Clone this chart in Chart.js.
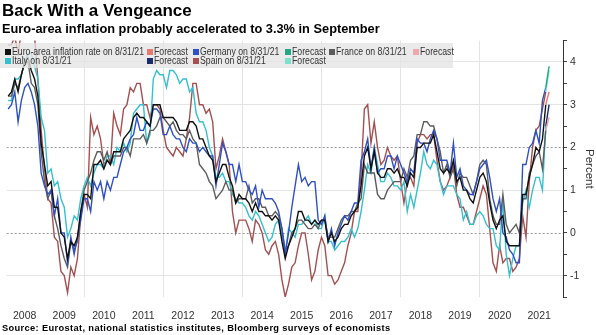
<!DOCTYPE html>
<html><head><meta charset="utf-8">
<script src="https://cdn.jsdelivr.net/npm/chart.js@4"></script>
<style>
html,body{margin:0;padding:0;background:#fff;}
#wrap{position:relative;width:596px;height:335px;overflow:hidden;font-family:"Liberation Sans",Arial,sans-serif;color:#000;}
#c{position:absolute;left:0;top:0;}
#title{position:absolute;left:2px;top:2px;font-weight:bold;font-size:17px;line-height:18px;white-space:nowrap;}
#sub{position:absolute;left:2px;top:22px;font-weight:bold;font-size:12.8px;line-height:14px;white-space:nowrap;}
#legend{position:absolute;left:0;top:43px;width:453px;height:25px;background:rgba(228,228,228,0.78);}
.li{position:absolute;font-family:"Liberation Sans",Arial,sans-serif;font-size:10px;line-height:10px;color:#333;white-space:nowrap;}
.sq{position:absolute;left:0;top:2px;width:6px;height:6px;}
.tx{position:absolute;left:7px;top:0;transform:scaleX(0.87);transform-origin:0 0;}
#src{position:absolute;left:2px;top:323px;font-weight:bold;font-size:9.3px;line-height:10px;white-space:nowrap;letter-spacing:0.35px;}
</style>
</head><body>
<div id="wrap">
<canvas id="c" width="596" height="335"></canvas>
<div id="title">Back With a Vengeance</div>
<div id="sub">Euro-area inflation probably accelerated to 3.3% in September</div>
<div id="legend"></div>
<div id="src">Source: Eurostat, national statistics institutes, Bloomberg surveys of economists</div>
</div>
<script>
// ---- data (monthly, Jan 2008 - Aug 2021, % y/y) ----
const startYear = 2008;
const yearLabels = [2008,2009,2010,2011,2012,2013,2014,2015,2016,2017,2018,2019,2020,2021];
const gridYears = [2010,2012,2014,2016,2018,2020];
const yTickValues = [-1.5,-1,-0.5,0,0.5,1,1.5,2,2.5,3,3.5,4,4.5];
const dottedLevels = [0, 2];

const euroArea = [
 3.2,3.3,3.6,3.3,3.7,4.0,4.1,3.8,3.6,3.2,2.1,1.6,
 1.1,1.2,0.6,0.6,0.0,-0.1,-0.6,-0.2,-0.3,-0.1,0.5,0.9,
 0.9,0.8,1.6,1.6,1.7,1.5,1.7,1.6,1.9,1.9,1.9,2.2,
 2.3,2.4,2.7,2.8,2.7,2.7,2.6,2.5,3.0,3.0,3.0,2.7,
 2.7,2.7,2.7,2.6,2.4,2.4,2.4,2.6,2.6,2.5,2.2,2.2,
 2.0,1.8,1.7,1.2,1.4,1.6,1.6,1.3,1.1,0.7,0.9,0.8,
 0.8,0.7,0.5,0.7,0.5,0.5,0.4,0.4,0.3,0.4,0.3,-0.2,
 -0.6,-0.3,-0.1,0.1,0.5,0.5,0.3,0.3,0.2,0.3,0.2,0.3,
 0.3,-0.2,0.0,-0.2,-0.1,0.1,0.2,0.2,0.4,0.5,0.6,1.1,
 1.8,2.0,1.5,1.9,1.4,1.3,1.3,1.5,1.5,1.4,1.5,1.3,
 1.3,1.1,1.4,1.3,2.0,2.0,2.1,2.1,2.1,2.3,1.9,1.5,
 1.4,1.5,1.4,1.7,1.2,1.3,1.0,1.0,0.8,0.7,1.0,1.3,
 1.4,1.2,0.7,0.3,0.1,0.3,0.4,-0.2,-0.3,-0.3,-0.3,-0.3,
 0.9,0.9,1.3,1.6,2.0,1.9,2.2,3.0];
const germany = [
 2.9,3.0,3.3,2.6,3.1,3.4,3.5,3.3,3.0,2.5,1.4,1.1,
 0.9,1.0,0.4,0.8,0.0,0.0,-0.7,-0.1,-0.5,-0.1,0.3,0.8,
 0.8,0.5,1.2,1.0,1.2,0.8,1.2,1.0,1.3,1.3,1.6,1.9,
 2.0,2.2,2.3,2.7,2.4,2.4,2.6,2.5,2.9,2.9,2.8,2.3,
 2.3,2.5,2.3,2.2,2.2,2.0,1.9,2.2,2.1,2.1,1.9,2.0,
 1.9,1.8,1.8,1.1,1.6,2.1,1.9,1.6,1.6,1.2,1.6,1.2,
 1.2,1.0,0.9,1.1,0.6,1.0,0.8,0.8,0.8,0.7,0.5,0.1,
 -0.5,0.0,0.6,1.1,1.6,1.2,1.3,1.1,1.2,1.2,0.3,0.2,
 0.4,-0.2,0.1,-0.3,0.0,0.2,0.4,0.3,0.5,0.7,0.7,1.7,
 1.9,2.2,1.5,2.0,1.4,1.5,1.5,1.8,1.8,1.5,1.8,1.6,
 1.4,1.2,1.5,1.4,2.2,2.1,2.1,1.9,2.2,2.4,2.2,1.7,
 1.7,1.7,1.4,2.1,1.3,1.5,1.1,1.0,0.9,0.9,1.2,1.5,
 1.6,1.7,1.3,0.8,0.5,0.8,0.0,-0.1,-0.4,-0.5,-0.7,-0.7,
 1.6,1.6,2.0,2.1,2.4,2.1,3.1,3.4];
const france = [
 3.2,3.2,3.5,3.4,3.7,4.0,4.0,3.5,3.4,3.0,1.9,1.2,
 0.8,1.0,0.4,0.1,-0.3,-0.6,-0.8,-0.2,-0.4,-0.2,0.5,1.0,
 1.2,1.4,1.7,1.9,1.9,1.7,1.9,1.6,1.8,1.8,1.8,2.0,
 2.0,1.8,2.2,2.2,2.2,2.3,2.1,2.4,2.4,2.5,2.7,2.7,
 2.6,2.5,2.6,2.4,2.3,2.3,2.2,2.4,2.2,2.1,1.6,1.5,
 1.4,1.2,1.1,0.8,0.9,1.0,1.2,1.0,1.0,0.7,0.8,0.8,
 0.8,1.1,0.7,0.8,0.8,0.6,0.6,0.4,0.4,0.5,0.4,0.1,
 -0.4,-0.3,0.0,0.1,0.3,0.3,0.2,0.1,0.1,0.2,0.1,0.3,
 0.3,-0.1,-0.1,-0.1,0.1,0.3,0.4,0.4,0.5,0.5,0.7,0.8,
 1.6,1.4,1.4,1.4,0.9,0.8,0.8,1.0,1.1,1.2,1.2,1.2,
 1.5,1.3,1.7,1.8,2.3,2.3,2.6,2.6,2.5,2.5,2.2,1.9,
 1.4,1.6,1.3,1.5,1.1,1.4,1.3,1.3,1.1,0.9,1.2,1.6,
 1.7,1.6,0.8,0.4,0.2,0.2,0.9,0.2,0.0,0.1,0.2,0.0,
 0.8,0.8,1.4,1.6,1.8,1.9,1.5,2.4];
const italy = [
 3.1,3.1,3.6,3.6,3.7,4.0,4.2,4.2,3.9,3.6,2.7,2.4,
 1.4,1.5,1.1,1.2,0.8,0.6,-0.1,0.1,0.4,0.3,0.8,1.1,
 1.3,1.1,1.4,1.6,1.6,1.5,1.8,1.8,1.6,2.0,1.9,2.1,
 1.9,2.1,2.8,2.9,3.0,3.0,2.1,2.3,3.6,3.8,3.7,3.7,
 3.4,3.8,3.8,3.7,3.5,3.6,3.6,3.3,3.4,2.8,2.6,2.6,
 2.4,2.0,1.8,1.3,1.3,1.4,1.2,1.2,0.9,0.8,0.7,0.7,
 0.6,0.4,0.3,0.5,0.4,0.2,0.0,-0.2,-0.1,0.2,0.3,-0.1,
 -0.5,0.1,0.0,-0.1,0.2,0.2,0.3,0.4,0.2,0.3,0.1,0.1,
 0.4,-0.2,-0.2,-0.4,-0.3,-0.2,-0.2,-0.1,0.1,-0.1,0.1,0.5,
 1.0,1.6,1.4,2.0,1.6,1.2,1.2,1.4,1.3,1.1,1.1,1.0,
 1.2,0.5,0.9,0.6,1.0,1.4,1.9,1.6,1.5,1.7,1.6,1.2,
 0.9,1.1,1.1,1.1,0.9,0.8,0.3,0.5,0.2,0.2,0.4,0.5,
 0.4,0.2,0.1,0.1,-0.3,-0.4,0.8,-0.5,-1.0,-0.6,-0.3,-0.3,
 0.7,1.0,0.6,1.0,1.3,1.3,1.0,2.5];
const spain = [
 4.4,4.4,4.6,4.2,4.7,5.1,5.3,4.9,4.6,3.6,2.4,1.5,
 0.8,0.7,-0.1,-0.2,-0.9,-1.0,-1.4,-0.8,-1.0,-0.6,0.4,0.9,
 0.6,2.7,2.3,2.5,2.2,1.6,1.7,1.6,2.8,2.5,2.3,2.9,
 3.0,3.4,3.3,3.5,3.5,3.0,3.0,2.7,3.0,3.0,2.9,2.4,
 2.0,1.9,1.8,2.0,1.9,1.8,2.2,2.7,3.5,3.5,3.0,3.0,
 2.8,2.9,2.6,1.5,1.8,2.2,1.9,1.6,0.5,0.0,0.3,0.3,
 0.3,0.1,-0.2,0.3,0.2,0.0,-0.4,-0.5,-0.3,-0.2,-0.5,-1.1,
 -1.5,-1.2,-0.8,-0.7,-0.3,0.0,0.0,-0.5,-1.1,-0.9,-0.4,-0.1,
 -0.3,-1.0,-1.0,-1.2,-1.1,-0.9,-0.7,-0.3,0.0,0.5,0.5,1.4,
 2.9,3.0,2.1,2.6,2.0,1.6,1.7,2.0,1.8,1.7,1.8,1.2,
 0.7,1.2,1.3,1.1,2.1,2.3,2.3,2.2,2.3,2.3,1.7,1.2,
 1.0,1.1,1.3,1.6,0.9,0.6,0.6,0.4,0.2,0.2,0.5,0.8,
 1.1,0.9,0.1,-0.7,-0.9,-0.3,-0.7,-0.6,-0.6,-0.9,-0.8,-0.6,
 0.4,-0.1,1.2,2.0,2.4,2.5,2.9,3.3];
// forecasts: [August 2021 actual, September 2021 forecast]
const euroForecast    = [3.0, 3.3];
const germanyForecast = [3.4, 3.9];
const franceForecast  = [2.4, 2.7];
const italyForecast   = [2.5, 3.0];
const spainForecast   = [3.3, 3.8];

// ---- build ----
const monthX = i => startYear + (i + 1) / 12;
const toPts = arr => arr.map((v, i) => ({x: monthX(i), y: v}));
const lastIdx = euroArea.length - 1;
const fcPts = arr => [{x: monthX(lastIdx), y: arr[0]}, {x: monthX(lastIdx + 1), y: arr[1]}];

const series = [
  {label:'Euro-area inflation rate on 8/31/21', color:'#111111', data:toPts(euroArea), col:0, row:0},
  {label:'Forecast', color:'#e8776f', data:fcPts(euroForecast), col:1, row:0},
  {label:'Germany on 8/31/21', color:'#2f50c4', data:toPts(germany), col:2, row:0},
  {label:'Forecast', color:'#22a884', data:fcPts(germanyForecast), col:3, row:0},
  {label:'France on 8/31/21', color:'#5c5c5c', data:toPts(france), col:4, row:0},
  {label:'Forecast', color:'#f0a6ae', data:fcPts(franceForecast), col:5, row:0},
  {label:'Italy on 8/31/21', color:'#34c0cf', data:toPts(italy), col:0, row:1},
  {label:'Forecast', color:'#1a2c6c', data:fcPts(italyForecast), col:1, row:1},
  {label:'Spain on 8/31/21', color:'#a44f50', data:toPts(spain), col:2, row:1},
  {label:'Forecast', color:'#78e2cb', data:fcPts(spainForecast), col:3, row:1}
];

// legend (HTML)
const colLeft = [5, 147, 193, 285, 329, 413];
const rowTop = [47, 56];
const leg = document.getElementById('legend');
series.forEach(s => {
  const d = document.createElement('div');
  d.className = 'li';
  d.style.left = colLeft[s.col] + 'px';
  d.style.top = (rowTop[s.row] - 43) + 'px';
  d.innerHTML = '<span class="sq" style="background:' + s.color + '"></span><span class="tx"></span>';
  d.querySelector('.tx').textContent = s.label;
  leg.appendChild(d);
});

// draw order: forecasts on top, then euro
const order = [1,3,5,7,9,0,2,4,6,8];
const datasets = order.map(k => {
  const s = series[k];
  return {label:s.label, data:s.data, borderColor:s.color, backgroundColor:s.color,
          borderWidth:1.4, pointRadius:0, tension:0, fill:false};
});

const dottedPlugin = {
  id:'dotted',
  beforeDatasetsDraw(chart){
    const {ctx, chartArea:a, scales:{y}} = chart;
    ctx.save();
    ctx.setLineDash([2,2]);
    ctx.strokeStyle = '#9a9a9a';
    ctx.lineWidth = 1;
    dottedLevels.forEach(v => {
      const py = Math.round(y.getPixelForValue(v)) + 0.5;
      ctx.beginPath(); ctx.moveTo(a.left, py); ctx.lineTo(a.right, py); ctx.stroke();
    });
    ctx.restore();
  }
};

new Chart(document.getElementById('c'), {
  type:'line',
  data:{datasets},
  plugins:[dottedPlugin],
  options:{
    responsive:false, animation:false,
    layout:{padding:{top:40.6, left:0, right:0, bottom:15}},
    plugins:{legend:{display:false}, tooltip:{enabled:false}},
    scales:{
      x:{type:'linear', min:2008.045, max:2022.102,
        afterBuildTicks: s => {
          const t = [];
          yearLabels.forEach(yr => t.push({value: yr + 0.5}));
          gridYears.forEach(yr => t.push({value: yr}));
          t.sort((a,b) => a.value - b.value);
          s.ticks = t;
        },
        afterFit: s => { s.height = 23; },
        ticks:{autoSkip:false, maxRotation:0, color:'#333', padding:13,
          font:{family:'"Liberation Sans", Arial, sans-serif', size:10.5},
          callback: v => Number.isInteger(v) ? '' : String(Math.floor(v))},
        grid:{drawTicks:false, color: c => (c.tick && Number.isInteger(c.tick.value)) ? '#e4e4e4' : 'rgba(0,0,0,0)'},
        border:{display:false}
      },
      y:{type:'linear', position:'right', min:-1.5, max:4.5,
        afterBuildTicks: s => { s.ticks = yTickValues.map(v => ({value:v})); },
        afterFit: s => { s.width = 33; },
        ticks:{color:'#333', padding:3, font:{family:'"Liberation Sans", Arial, sans-serif', size:10.5},
          callback: v => Number.isInteger(v) ? String(v) : ''},
        grid:{drawTicks:true, tickLength:4, tickColor:'#444',
          color: c => (c.tick && Number.isInteger(c.tick.value) && !dottedLevels.includes(c.tick.value)) ? '#e4e4e4' : 'rgba(0,0,0,0)'},
        border:{display:true, color:'#333', width:1},
        title:{display:true, text:'Percent', color:'#333', padding:0,
          font:{family:'"Liberation Sans", Arial, sans-serif', size:11.5}}
      }
    }
  }
});
</script>
</body></html>
